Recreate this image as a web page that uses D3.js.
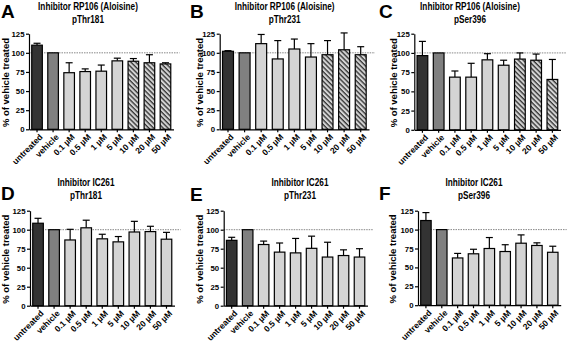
<!DOCTYPE html>
<html>
<head>
<meta charset="utf-8">
<script src="https://cdn.jsdelivr.net/npm/d3@7"></script>
<style>
  body { margin: 0; background: #fff; }
  svg { display: block; font-family: "Liberation Sans", Arial, sans-serif; }
</style>
</head>
<body>
<div id="chart"></div>
<script>
// categories and tick labels
var categories = ["untreated", "vehicle", "0.1 µM", "0.5 µM", "1 µM", "5 µM", "10 µM", "20 µM", "50 µM"];
var yTicks = [0, 25, 50, 75, 100, 125];
var letters = ["A", "B", "C", "D", "E", "F"];
var titles = ["Inhibitor RP106 (Aloisine)", "Inhibitor RP106 (Aloisine)", "Inhibitor RP106 (Aloisine)",
              "Inhibitor IC261", "Inhibitor IC261", "Inhibitor IC261"];
var sites = ["pThr181", "pThr231", "pSer396", "pThr181", "pThr231", "pSer396"];
var hatchedRP106 = ["10 µM", "20 µM", "50 µM"];
var hatchedIC261 = [];

// % of vehicle treated, mean and SEM
var meanA = [110, 100, 74, 75.5, 76, 89.5, 89, 87, 85.5];
var errA  = [2.5, 0, 13, 3.5, 8, 3.5, 3.5, 10.5, 1.5];
var meanB = [102, 100, 112, 92, 105, 94.5, 97.5, 104, 97.5];
var errB  = [0.8, 0, 12, 24, 13, 17.5, 18.5, 22, 10.5];
var meanC = [96.5, 100, 68.5, 68.5, 91, 84, 92, 90.5, 65.5];
var errC  = [18.5, 0, 8, 18, 8, 6.5, 8, 8, 26];
var meanD = [108.5, 100, 86.5, 102.5, 88, 84, 97, 97.5, 87.5];
var errD  = [6.5, 0, 14, 10, 6, 7, 14, 7, 9];
var meanE = [86, 100, 80.5, 70.5, 69.5, 75.5, 64, 66, 64];
var errE  = [4, 0, 4.5, 12, 19, 16, 19.5, 7.5, 11];
var meanF = [112, 100, 62.5, 68, 75, 71, 82, 79, 70];
var errF  = [10.5, 0, 6, 6, 14.5, 9, 11, 3.5, 8];

var means = [meanA, meanB, meanC, meanD, meanE, meanF];
var errs = [errA, errB, errC, errD, errE, errF];
var hatched = [hatchedRP106, hatchedRP106, hatchedRP106, hatchedIC261, hatchedIC261, hatchedIC261];

// panel placement
var layout = [
  {x0: 29,    x1: 173.5, yTop: 33.7,  yBot: 129.3, labelX: 8.5, titleX: 88,    titleY: 10,  letterX: 1,   letterY: 17.5},
  {x0: 219.7, x1: 369,   yTop: 33.7,  yBot: 129.3, labelX: 203, titleX: 284.7, titleY: 10,  letterX: 190, letterY: 17.5},
  {x0: 414.3, x1: 560.5, yTop: 33.7,  yBot: 129.8, labelX: 397, titleX: 470,   titleY: 10,  letterX: 379, letterY: 17.5},
  {x0: 30,    x1: 174.5, yTop: 210.7, yBot: 305.7, labelX: 8.5, titleX: 86,    titleY: 186, letterX: 1,   letterY: 200},
  {x0: 223.7, x1: 367.5, yTop: 210.7, yBot: 305.7, labelX: 203, titleX: 300,   titleY: 186, letterX: 190, letterY: 201},
  {x0: 418,   x1: 560.7, yTop: 210.7, yBot: 305.2, labelX: 396, titleX: 474,   titleY: 186, letterX: 379, letterY: 200}
];

var width = 567, height = 346;
var color = d3.scaleOrdinal().domain(["untreated", "vehicle"]).range(["#333333", "#808080"]).unknown("#d4d4d4");

var svg = d3.select("#chart").append("svg").attr("width", width).attr("height", height);

// diagonal hatch for the high doses
var pat = svg.append("defs").append("pattern")
  .attr("id", "hatch").attr("patternUnits", "userSpaceOnUse")
  .attr("width", 3.4).attr("height", 3.4)
  .attr("patternTransform", "rotate(-45)");
pat.append("rect").attr("width", 3.4).attr("height", 3.4).attr("fill", "#d4d4d4");
pat.append("line").attr("x1", 1).attr("y1", 0).attr("x2", 1).attr("y2", 3.4)
  .attr("stroke", "#111").attr("stroke-width", 1.1);

layout.forEach(function (p, i) {
  var data = categories.map(function (c, j) {
    return {cat: c, mean: means[i][j], err: errs[i][j]};
  });

  var x = d3.scaleBand().domain(categories).range([p.x0, p.x1])
    .paddingInner(0.34).paddingOuter(0.17);
  var y = d3.scaleLinear().domain([0, 125]).range([p.yBot, p.yTop]);

  var g = svg.append("g");

  // reference line at 100 %
  g.append("line")
    .attr("x1", p.x0).attr("x2", p.x1 + 6)
    .attr("y1", y(100)).attr("y2", y(100))
    .attr("stroke", "#555").attr("stroke-width", 0.7)
    .attr("stroke-dasharray", "1.5,1");

  // error bars (upper only)
  var eb = g.append("g").selectAll("g").data(data.filter(function (d) { return d.err > 0; }))
    .join("g").attr("stroke", "#000").attr("stroke-width", 1.2);
  eb.append("line")
    .attr("x1", function (d) { return x(d.cat) + x.bandwidth() / 2; })
    .attr("x2", function (d) { return x(d.cat) + x.bandwidth() / 2; })
    .attr("y1", function (d) { return y(d.mean); })
    .attr("y2", function (d) { return y(d.mean + d.err); });
  eb.append("line")
    .attr("x1", function (d) { return x(d.cat) + x.bandwidth() / 2 - 3.5; })
    .attr("x2", function (d) { return x(d.cat) + x.bandwidth() / 2 + 3.5; })
    .attr("y1", function (d) { return y(d.mean + d.err); })
    .attr("y2", function (d) { return y(d.mean + d.err); });

  // bars
  g.append("g").selectAll("rect").data(data).join("rect")
    .attr("x", function (d) { return x(d.cat); })
    .attr("y", function (d) { return y(d.mean); })
    .attr("width", x.bandwidth())
    .attr("height", function (d) { return y(0) - y(d.mean); })
    .attr("fill", function (d) { return hatched[i].indexOf(d.cat) >= 0 ? "url(#hatch)" : color(d.cat); })
    .attr("stroke", "#000").attr("stroke-width", 1.2);

  // y axis
  var yAxis = g.append("g").attr("transform", "translate(" + p.x0 + ",0)")
    .call(d3.axisLeft(y).tickValues(yTicks).tickSize(3).tickSizeOuter(0).tickPadding(1.5));
  yAxis.selectAll("text").attr("font-size", 7.8).attr("font-weight", "bold")
    .attr("font-family", "Liberation Sans, Arial, sans-serif");

  // x axis
  var xAxis = g.append("g").attr("transform", "translate(0," + p.yBot + ")")
    .call(d3.axisBottom(x).tickSize(3).tickSizeOuter(0));
  xAxis.selectAll("text")
    .attr("font-size", 8.5).attr("font-weight", "bold")
    .attr("font-family", "Liberation Sans, Arial, sans-serif")
    .attr("text-anchor", "end")
    .attr("dy", "0.35em")
    .attr("transform", "translate(2,4) rotate(-45)")
    .attr("x", 0).attr("y", 3);
  g.selectAll(".domain, .tick line").attr("stroke", "#000").attr("stroke-width", 1.2);

  // y label
  g.append("text")
    .attr("transform", "translate(" + p.labelX + "," + ((p.yTop + p.yBot) / 2 + 1) + ") rotate(-90)")
    .attr("text-anchor", "middle")
    .attr("font-size", 9.5).attr("font-weight", "bold")
    .text("% of vehicle treated");

  // titles, slightly condensed like the original
  [titles[i], sites[i]].forEach(function (t, k) {
    var tt = g.append("text")
      .attr("x", p.titleX).attr("y", p.titleY + k * 12.5)
      .attr("text-anchor", "middle")
      .attr("font-size", 10).attr("font-weight", "bold")
      .text(t);
    var w = tt.node().getComputedTextLength();
    tt.attr("textLength", w * 0.82).attr("lengthAdjust", "spacingAndGlyphs");
  });

  // panel letter
  g.append("text")
    .attr("x", p.letterX).attr("y", p.letterY)
    .attr("font-size", 19).attr("font-weight", "bold")
    .text(letters[i]);
});
</script>
</body>
</html>
